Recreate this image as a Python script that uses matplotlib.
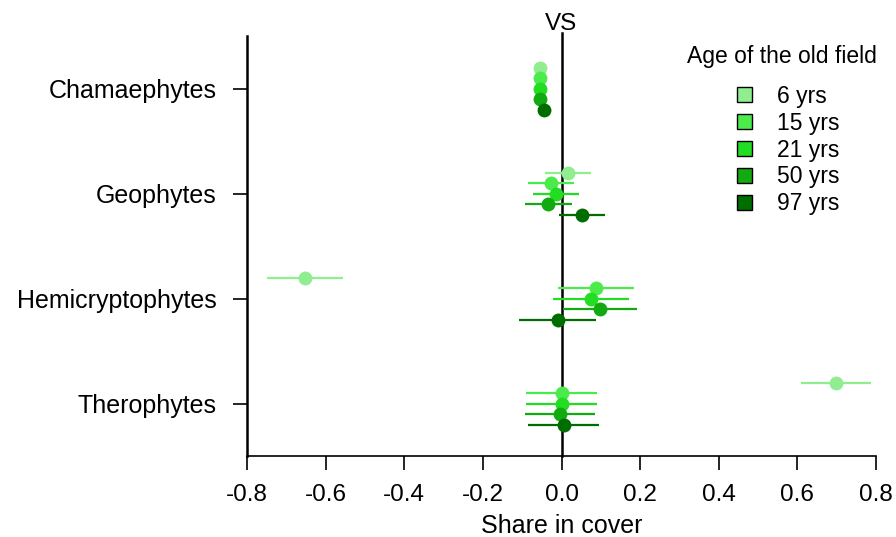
import numpy as np
import matplotlib
matplotlib.use("Agg")
from matplotlib import pyplot as plt
import matplotlib.patches as mpatches

plt.rcParams['font.family'] = ['Liberation Sans', 'DejaVu Sans']

# life forms, top to bottom
forms = ["Chamaephytes", "Geophytes", "Hemicryptophytes", "Therophytes"]
ages = ["6 yrs", "15 yrs", "21 yrs", "50 yrs", "97 yrs"]
colors = ["#90ee90", "#4ceb4c", "#22dd22", "#11aa11", "#006d00"]

# share in cover (mean) per age, one value per life form
means = {
    "6 yrs":  [-0.055, 0.017, -0.653, 0.698],
    "15 yrs": [-0.055, -0.027, 0.088, 0.000],
    "21 yrs": [-0.055, -0.014, 0.075, 0.000],
    "50 yrs": [-0.055, -0.034, 0.098, -0.004],
    "97 yrs": [-0.045, 0.052, -0.009, 0.006],
}
# half width of the error bars
errs = {
    "6 yrs":  [0.004, 0.058, 0.097, 0.090],
    "15 yrs": [0.004, 0.059, 0.097, 0.090],
    "21 yrs": [0.004, 0.059, 0.097, 0.090],
    "50 yrs": [0.004, 0.060, 0.095, 0.090],
    "97 yrs": [0.004, 0.058, 0.098, 0.090],
}
offsets = [0.2, 0.1, 0.0, -0.1, -0.2]

fig = plt.figure(figsize=(8.96, 5.37), dpi=100)
ax = fig.add_axes([247/896, (537-456)/537, (876-247)/896, (456-36)/537])

ypos = np.arange(len(forms), 0, -1)
for age, col, off in zip(ages, colors, offsets):
    ax.errorbar(means[age], ypos + off, xerr=errs[age], fmt='o', color=col,
                ecolor=col, elinewidth=1.6, capsize=0, markersize=10,
                markeredgewidth=0, zorder=3)

ax.axvline(0, color='black', lw=1.8, zorder=2, ymax=1.008, clip_on=False)

xt = np.arange(-0.8, 0.81, 0.2)
ax.set_xlim(-0.8, 0.8)
ax.set_ylim(0.5, 4.5)
ax.set_xticks(xt)
ax.set_xticklabels(["%.1f" % (round(v, 1) + 0.0) for v in xt])
ax.set_yticks(ypos)
ax.set_yticklabels(forms, fontsize=18)
ax.tick_params(axis='x', labelsize=17.5, length=10, width=1.2, pad=10)
ax.tick_params(axis='y', length=10, width=1.2, pad=12)
ax.spines['top'].set_visible(False)
ax.spines['right'].set_visible(False)
ax.spines['left'].set_linewidth(1.8)
ax.spines['bottom'].set_linewidth(1.2)
ax.set_xlabel("Share in cover", fontsize=18, labelpad=6)
ax.set_title("VS", fontsize=17.5, pad=4)

ax.text(0.851, 0.95, "Age of the old field", transform=ax.transAxes,
        ha='center', va='center', fontsize=16.5)
handles = [mpatches.Patch(facecolor=c, edgecolor='black', linewidth=1) for c in colors]
leg = ax.legend(handles, ages, frameon=False, loc='upper left',
                bbox_to_anchor=(0.779, 0.884), borderpad=0, borderaxespad=0,
                fontsize=16.5, handlelength=0.65, handleheight=0.65,
                handletextpad=1.1, labelspacing=0.17)

fig.savefig("out.png", dpi=100)
